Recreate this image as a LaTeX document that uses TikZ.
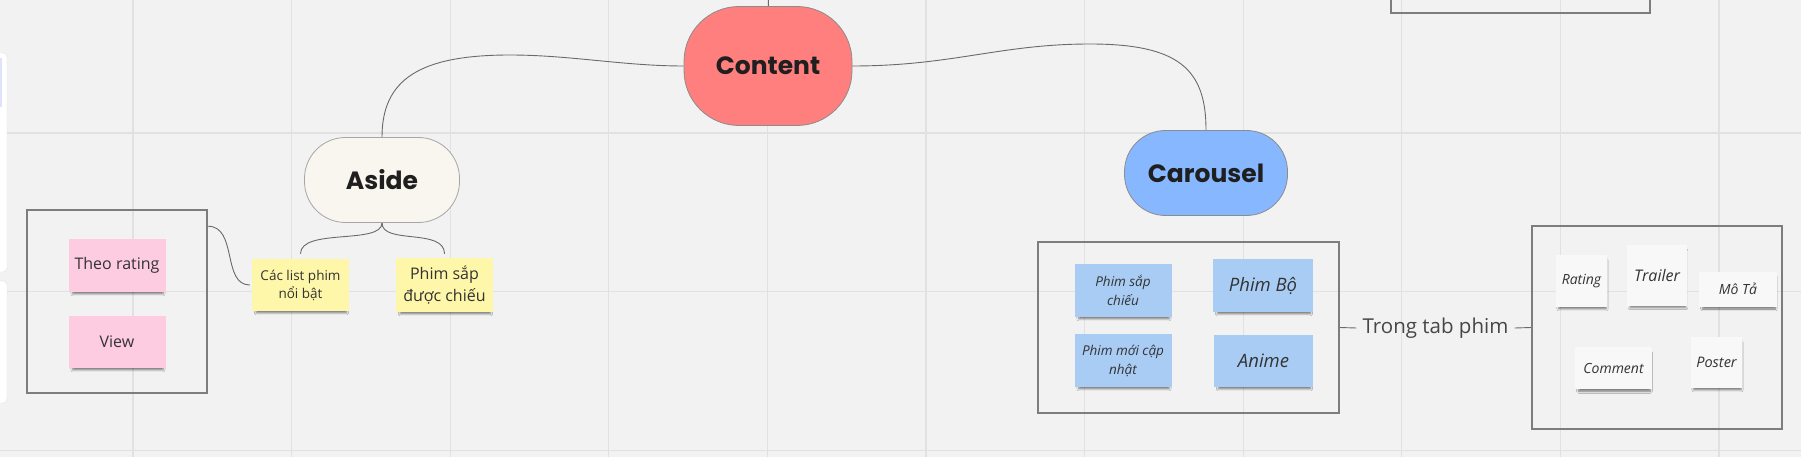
\documentclass[tikz,border=0pt]{standalone}
\usepackage{fontspec}
\setmainfont{Open Sans}
\newfontfamily\headfont{Poppins}
\usetikzlibrary{positioning, calc, shadows.blur}

\definecolor{bgcol}{HTML}{F2F2F2}
\definecolor{gridcol}{HTML}{E1E1E1}
\definecolor{linecol}{HTML}{6A6A6A}
\definecolor{framecol}{HTML}{7D7D7D}
\definecolor{contentcol}{HTML}{FF7F7F}
\definecolor{asidecol}{HTML}{F9F6F0}
\definecolor{carouselcol}{HTML}{86B7FF}
\definecolor{pinkcol}{HTML}{FECCE0}
\definecolor{yellowcol}{HTML}{FEF6A8}
\definecolor{bluecol}{HTML}{A9CCF4}
\definecolor{whitecol}{HTML}{F8F8F8}
\definecolor{textcol}{HTML}{333333}

\begin{document}
\begin{tikzpicture}[x=1pt, y=-1pt,
	topic/.style={draw=#1, line width=0.8pt, text=black!88,
		font=\headfont\bfseries\fontsize{25}{30}\selectfont},
	sticky/.style={fill=#1, align=center, text=textcol, inner sep=2pt,
		minimum width=97pt, minimum height=53pt,
		blur shadow={shadow xshift=1pt, shadow yshift=-4pt, shadow scale=0.93,
			shadow blur steps=5, shadow opacity=50}},
	frame/.style={draw=framecol, line width=1.6pt},
	link/.style={draw=linecol, line width=0.9pt}]
	
	% Background and grid
	\useasboundingbox[fill=bgcol] (0,0) rectangle (1801,457);
	\foreach \gx in {133,291.6,...,1801}
	\draw[gridcol, line width=1.3pt] (\gx,0) -- (\gx,457);
	\foreach \gy in {133,291.6,450.2}
	\draw[gridcol, line width=1.3pt] (0,\gy) -- (1801,\gy);
	
	% Side panels
	\fill[white, draw=gridcol, rounded corners=4pt] (-10,53) rectangle (7,272);
	\fill[white, draw=gridcol, rounded corners=4pt] (-10,281) rectangle (7,403);
	\fill[blue!12] (-10,58) rectangle (2,107);
	\draw[frame] (1391,-5) rectangle (1650,13);
	
	% Topics
	\node[topic=black!45, fill=contentcol, minimum width=168pt, minimum height=119pt,
		rounded corners=55pt] (content) at (768,66) {Content};
	\node[topic=black!35, fill=asidecol, minimum width=155pt, minimum height=85pt,
		rounded corners=41pt] (aside) at (382,180) {Aside};
	\node[topic=black!45, fill=carouselcol, minimum width=163pt, minimum height=85pt,
		rounded corners=41pt] (carousel) at (1206,173) {Carousel};
	\coordinate (ctop) at (768,0);
	\coordinate (apeak) at (510,55);
	\coordinate (cpeak) at (1090,44);
	
	\draw[link] (content.north) -- (ctop);
	\draw[link] (content.west) .. controls +(-60,0) and +(60,0) .. (apeak)
	.. controls +(-90,0) and +(0,-58) .. (aside.north);
	\draw[link] (content.east) .. controls +(100,0) and +(-90,0) .. (cpeak)
	.. controls +(90,0) and +(0,-60) .. (carousel.north);
	
	% Aside
	\node[frame, minimum width=180pt, minimum height=183pt] (leftbox) at (117,301.5) {};
	\node[sticky=pinkcol, font=\fontsize{16}{20}\selectfont] (theo) at (117,265.5) {Theo rating};
	\node[sticky=pinkcol, font=\fontsize{16}{20}\selectfont, minimum height=52pt] (view) at (117,342) {View};
	\node[sticky=yellowcol, font=\fontsize{13.5}{18}\selectfont, minimum height=52pt] (listphim) at (300.5,285) {Các list phim\\nổi bật};
	\node[sticky=yellowcol, font=\fontsize{16}{22}\selectfont, minimum height=54pt] (sapchieu) at (444.5,285) {Phim sắp\\được chiếu};
	\coordinate (lptop) at ($(listphim.north)+(0,-5)$);
	\coordinate (sctop) at ($(sapchieu.north)+(0,-4)$);
	
	\draw[link] (aside.south) .. controls +(0,22) and +(0,-26) .. (lptop);
	\draw[link] (aside.south) .. controls +(0,22) and +(0,-26) .. (sctop);
	\draw[link] ([yshift=-17pt]leftbox.north east) .. controls +(30,0) and +(-28,0)
	.. ([xshift=-2pt]listphim.west);
	
	% Carousel
	\node[frame, minimum width=301pt, minimum height=171pt] (carbox) at (1188.5,327.5) {};
	\node[sticky=bluecol, font=\itshape\fontsize{13.5}{19}\selectfont] (sapchieu2) at (1123,290.5) {Phim sắp\\chiếu};
	\node[sticky=bluecol, font=\itshape\fontsize{18.5}{22}\selectfont, minimum width=100pt] (phimbo) at (1263,285.5) {Phim Bộ};
	\node[sticky=bluecol, font=\itshape\fontsize{13.5}{19}\selectfont] (moicapnhat) at (1123,360.5) {Phim mới cập\\nhật};
	\node[sticky=bluecol, font=\itshape\fontsize{18.5}{22}\selectfont, minimum width=99pt, minimum height=52pt] (anime) at (1263.5,361) {Anime};
	
	\node[text=textcol!90, font=\fontsize{20.5}{24}\selectfont, inner sep=6pt] (tab) at (1435.5,328) {Trong tab phim};
	\node[frame, minimum width=250pt, minimum height=203pt] (rightbox) at (1657,327.5) {};
	\draw[link] (carbox.east) -- (tab.west);
	\draw[link] (tab.east) -- (rightbox.west);
	
	\node[sticky=whitecol, font=\itshape\fontsize{14}{18}\selectfont, minimum width=51pt, minimum height=52pt] (rating) at (1581.5,281) {Rating};
	\node[sticky=whitecol, font=\itshape\fontsize{16}{20}\selectfont, minimum width=60pt, minimum height=61pt] (trailer) at (1657,275.5) {Trailer};
	\node[sticky=whitecol, font=\itshape\fontsize{14}{18}\selectfont, minimum width=78pt, minimum height=35pt] (mota) at (1738,289) {Mô Tả};
	\node[sticky=whitecol, font=\itshape\fontsize{14}{18}\selectfont, minimum width=77pt, minimum height=42pt] (comment) at (1613.5,368) {Comment};
	\node[sticky=whitecol, font=\itshape\fontsize{14.5}{18}\selectfont, minimum width=51pt, minimum height=51pt] (poster) at (1716.5,362.5) {Poster};
	
\end{tikzpicture}
\end{document}
